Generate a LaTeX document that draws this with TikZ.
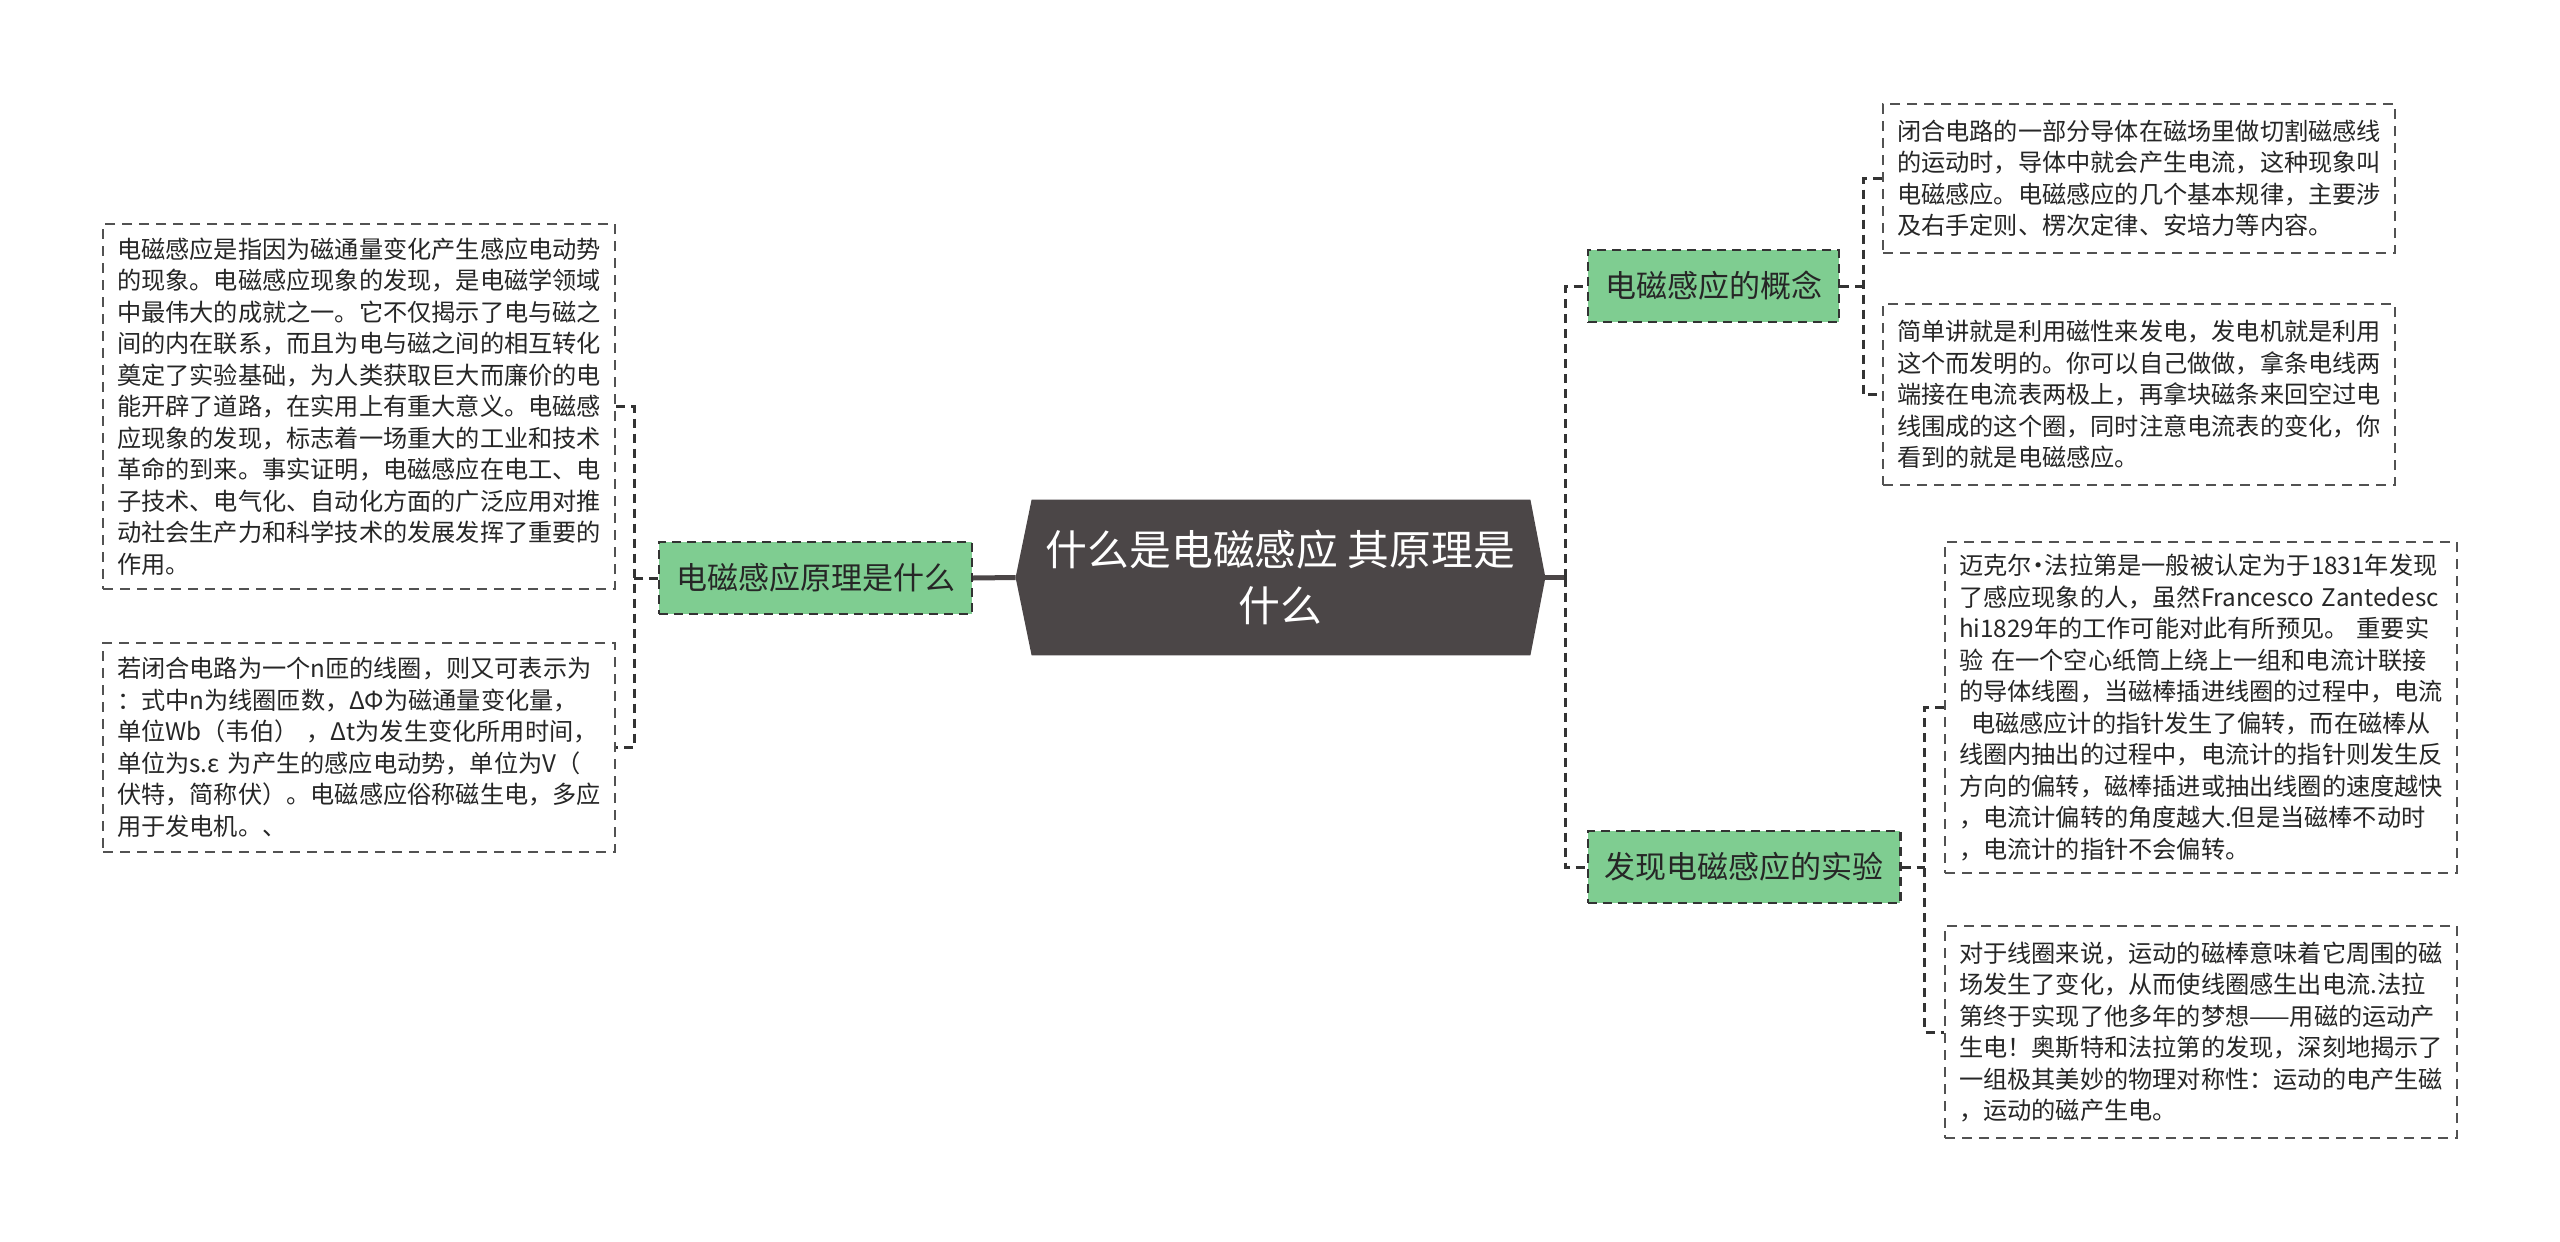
\documentclass[tikz,border=0pt]{standalone}
\usepackage{fontspec}
\setmainfont{Noto Sans CJK SC}
\usetikzlibrary{backgrounds}
\definecolor{rootgray}{RGB}{75,70,71}
\definecolor{topicgreen}{RGB}{127,205,145}
\definecolor{linegray}{RGB}{51,51,51}
\definecolor{textgray}{RGB}{38,38,38}

\begin{document}
\begin{tikzpicture}[x=0.5pt,y=-0.5pt,
    link/.style={draw=linegray, line width=1.5pt, dash pattern=on 4.5pt off 3pt},
    rootlink/.style={draw=rootgray, line width=2.5pt},
    topic/.style={draw=linegray, line width=1.2pt, dash pattern=on 4.5pt off 3pt,
        fill=topicgreen, text=textgray, font=\fontsize{15.5}{19}\selectfont,
        inner xsep=8.4pt, inner ysep=0pt, minimum height=36pt},
    leaf/.style={draw=linegray!85, line width=1pt, dash pattern=on 5pt off 3.5pt,
        fill=white, text=textgray, align=left, font=\fontsize{12.1}{15.75}\selectfont,
        text width=242pt, inner xsep=7pt, inner ysep=4pt}]
\useasboundingbox (0,0) rectangle (2560,1242);

\node[text=white, align=center, font=\fontsize{20.9}{27.8}\selectfont,
    minimum width=264.5pt, minimum height=77.5pt, inner sep=0pt]
    (root) at (1280.5,577.5) {什么是电磁感应 其原理是\\什么};

\node[topic] (basis) at (815.5,578) {电磁感应原理是什么};
\node[topic] (concept) at (1713.5,286) {电磁感应的概念};
\node[topic] (expt) at (1744,867) {发现电磁感应的实验};

\node[leaf, minimum height=182.5pt] (basisA) at (359,406.5) {电磁感应是指因为磁通量变化产生感应电动势\\
的现象。电磁感应现象的发现，是电磁学领域\\
中最伟大的成就之一。它不仅揭示了电与磁之\\
间的内在联系，而且为电与磁之间的相互转化\\
奠定了实验基础，为人类获取巨大而廉价的电\\
能开辟了道路，在实用上有重大意义。电磁感\\
应现象的发现，标志着一场重大的工业和技术\\
革命的到来。事实证明，电磁感应在电工、电\\
子技术、电气化、自动化方面的广泛应用对推\\
动社会生产力和科学技术的发展发挥了重要的\\
作用。};
\node[leaf, minimum height=104.5pt] (basisB) at (359,747.5) {若闭合电路为一个n匝的线圈，则又可表示为\\
：式中n为线圈匝数，ΔΦ为磁通量变化量，\\
单位Wb（韦伯） ，Δt为发生变化所用时间，\\
单位为s.ε 为产生的感应电动势，单位为V（\\
伏特，简称伏）。电磁感应俗称磁生电，多应\\
用于发电机。、};

\node[leaf, minimum height=74.5pt] (conceptA) at (2139,178.5) {闭合电路的一部分导体在磁场里做切割磁感线\\
的运动时，导体中就会产生电流，这种现象叫\\
电磁感应。电磁感应的几个基本规律，主要涉\\
及右手定则、楞次定律、安培力等内容。};
\node[leaf, minimum height=90.5pt] (conceptB) at (2139,394.5) {简单讲就是利用磁性来发电，发电机就是利用\\
这个而发明的。你可以自己做做，拿条电线两\\
端接在电流表两极上，再拿块磁条来回空过电\\
线围成的这个圈，同时注意电流表的变化，你\\
看到的就是电磁感应。};

\node[leaf, minimum height=165.5pt] (exptA) at (2201,707.5) {迈克尔\makebox[0.55em]{·}法拉第是一般被认定为于1831年发现\\
了感应现象的人，虽然Francesco Zantedesc\\
hi1829年的工作可能对此有所预见。 重要实\\
验 在一个空心纸筒上绕上一组和电流计联接\\
的导体线圈，当磁棒插进线圈的过程中，电流\\
\hspace*{0.5em}电磁感应计的指针发生了偏转，而在磁棒从\\
线圈内抽出的过程中，电流计的指针则发生反\\
方向的偏转，磁棒插进或抽出线圈的速度越快\\
，电流计偏转的角度越大.但是当磁棒不动时\\
，电流计的指针不会偏转。};
\node[leaf, minimum height=106pt] (exptB) at (2201,1032) {对于线圈来说，运动的磁棒意味着它周围的磁\\
场发生了变化，从而使线圈感生出电流.法拉\\
第终于实现了他多年的梦想——用磁的运动产\\
生电！奥斯特和法拉第的发现，深刻地揭示了\\
一组极其美妙的物理对称性：运动的电产生磁\\
，运动的磁产生电。};

\begin{scope}[on background layer]
\fill[white] (0,0) rectangle (2560,1242);
\fill[rootgray] ([xshift=8pt]root.north west) -- ([xshift=-7.5pt]root.north east)
    -- (root.east) -- ([xshift=-7.5pt]root.south east)
    -- ([xshift=8pt]root.south west) -- (root.west) -- cycle;
\end{scope}

% root to main topics
\coordinate (rootR) at (1565,577.5);
\draw[rootlink] (root.west) -- (basis.east);
\draw[rootlink] (root.east) -- (rootR);
\draw[link] (rootR) |- (concept.west);
\draw[link] (rootR) |- (expt.west);

% topics to leaves
\draw[link] (basis.west) -- ++(-24,0) coordinate (basisL);
\draw[link] (basisA.east) -| (basisL) |- (basisB.east);
\draw[link] (concept.east) -- ++(23,0) coordinate (conceptR);
\draw[link] (conceptA.west) -| (conceptR) |- (conceptB.west);
\draw[link] (expt.east) -- ++(23,0) coordinate (exptR);
\draw[link] (exptA.west) -| (exptR) |- (exptB.west);
\end{tikzpicture}
\end{document}
